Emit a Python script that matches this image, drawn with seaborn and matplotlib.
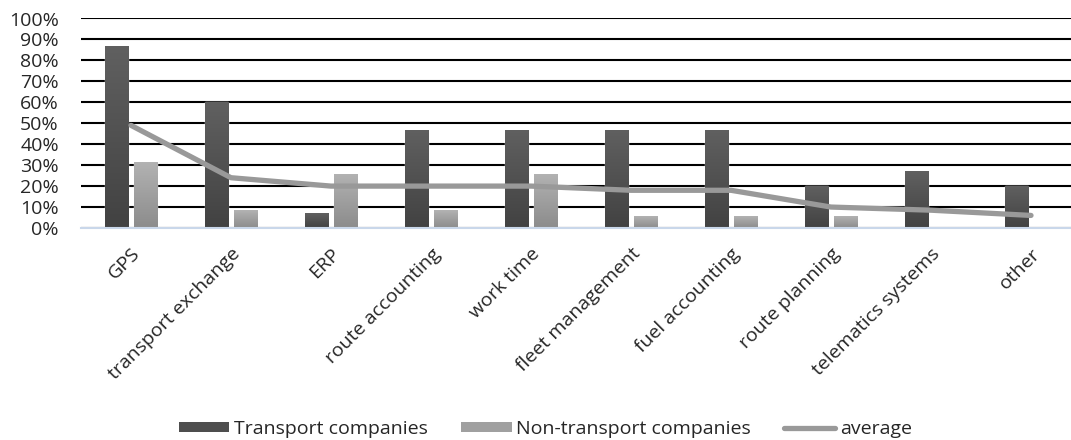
import numpy as np
import pandas as pd
import matplotlib
matplotlib.use("Agg")
import matplotlib.pyplot as plt
import seaborn as sns
from matplotlib.lines import Line2D
from matplotlib.patches import Patch
from matplotlib.colors import LinearSegmentedColormap

categories = ["GPS", "transport exchange", "ERP", "route accounting", "work time",
              "fleet management", "fuel accounting", "route planning",
              "telematics systems", "other"]
transport = [0.87, 0.60, 0.07, 0.47, 0.47, 0.47, 0.47, 0.20, 0.27, 0.20]
non_transport = [0.315, 0.085, 0.26, 0.085, 0.26, 0.055, 0.055, 0.055, 0.0, 0.0]
average = [0.49, 0.24, 0.20, 0.20, 0.20, 0.18, 0.18, 0.10, 0.085, 0.06]
yticks = [0, 0.1, 0.2, 0.3, 0.4, 0.5, 0.6, 0.7, 0.8, 0.9, 1.0]
ytick_labels = ["0%", "10%", "20%", "30%", "40%", "50%", "60%", "70%", "80%", "90%", "100%"]

sns.set_theme(style="white")
plt.rcParams['font.family'] = ['Open Sans', 'DejaVu Sans']

df = pd.DataFrame({
    "category": categories * 2,
    "value": transport + non_transport,
    "group": ["Transport companies"] * len(categories) + ["Non-transport companies"] * len(categories),
})

fig = plt.figure(figsize=(10.71, 4.40), dpi=100)
ax = fig.add_axes([81 / 1071, 212 / 440, 1 - 81 / 1071, 209.5 / 440])

dark = "#525252"
light = "#a2a2a2"
sns.barplot(data=df, x="category", y="value", hue="group", order=categories,
            hue_order=["Transport companies", "Non-transport companies"],
            palette=[dark, light], width=0.58, gap=0.19, ax=ax, legend=False,
            saturation=1, zorder=2)

# gradient fill for bars
cmap_dark = LinearSegmentedColormap.from_list("d", ["#424242", "#606060"])
cmap_light = LinearSegmentedColormap.from_list("l", ["#8c8c8c", "#b2b2b2"])
n = len(categories)
for i, p in enumerate(ax.patches):
    h = p.get_height()
    if h <= 0:
        continue
    x0 = p.get_x(); w = p.get_width()
    cmap = cmap_dark if i < n else cmap_light
    grad = np.linspace(0, 1, 64).reshape(-1, 1)
    im = ax.imshow(grad, extent=[x0, x0 + w, 0, h], origin="lower", aspect="auto",
                   cmap=cmap, zorder=2.5)
    im.set_clip_path(p)

sns.lineplot(x=np.arange(n), y=average, ax=ax, color="#999999", linewidth=3.8,
             solid_capstyle="round", solid_joinstyle="round", zorder=4)

ax.set_xlim(-0.5, 9.4)
ax.set_ylim(0, 1.0)
ax.set_yticks(yticks)
ax.set_yticklabels(ytick_labels, fontsize=14)
ax.set_xticks(np.arange(n))
ax.set_xticklabels(categories, rotation=45, ha="right", va="top",
                   rotation_mode="anchor", fontsize=14)
ax.tick_params(axis="x", length=0, pad=12)
ax.tick_params(axis="y", length=0, pad=16)
ax.set_xlabel("")
ax.set_ylabel("")
for s in ["top", "right", "left"]:
    ax.spines[s].set_visible(False)
ax.spines["bottom"].set_color("#c9d7ea")
ax.spines["bottom"].set_linewidth(1.5)
ax.spines["bottom"].set_zorder(5)
ax.yaxis.grid(True, color="black", linewidth=1.5, zorder=1)
ax.set_axisbelow(True)

handles = [Patch(facecolor="#4e4e4e", edgecolor="none"),
           Patch(facecolor="#a0a0a0", edgecolor="none"),
           Line2D([0], [0], color="#999999", linewidth=3.8, solid_capstyle="round")]
fig.legend(handles, ["Transport companies", "Non-transport companies", "average"],
           loc="center", bbox_to_anchor=(0.509, 0.026), ncol=3, frameon=False,
           fontsize=14, handlelength=2.6, handleheight=0.4, columnspacing=1.7,
           handletextpad=0.25, borderpad=0.2)

fig.savefig("out.png", dpi=100)
